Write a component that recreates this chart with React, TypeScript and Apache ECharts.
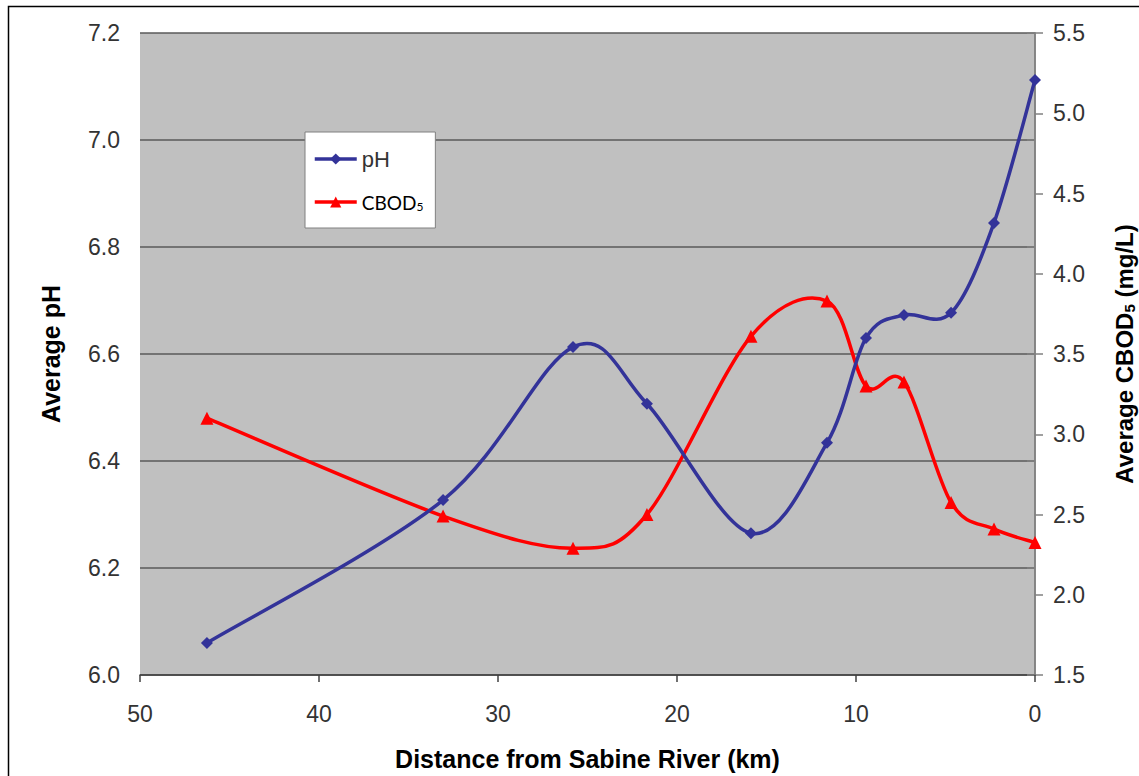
import React, { useEffect, useRef } from "react";
import * as echarts from "echarts";

const distanceKm = [46.26, 33.07, 25.81, 21.68, 15.87, 11.62, 9.44, 7.32, 4.69, 2.29, 0];
const phValues = [6.06, 6.327, 6.613, 6.507, 6.265, 6.434, 6.63, 6.673, 6.677, 6.845, 7.112];
const cbodValues = [3.1, 2.49, 2.29, 2.5, 3.61, 3.83, 3.3, 3.325, 2.575, 2.41, 2.325];
const xTicks = [50, 40, 30, 20, 10, 0];
const phTicks = ["6.0", "6.2", "6.4", "6.6", "6.8", "7.0", "7.2"];
const cbodTicks = ["1.5", "2.0", "2.5", "3.0", "3.5", "4.0", "4.5", "5.0", "5.5"];

const PH_COLOR = "#333399";
const CBOD_COLOR = "#FF0000";

// Smooth curve (uniform Catmull-Rom → cubic Bezier) through points mapped by the axes
function smoothPath(pts: number[][]): string {
  let d = `M${pts[0][0]},${pts[0][1]}`;
  for (let i = 0; i < pts.length - 1; i++) {
    const p0 = pts[Math.max(i - 1, 0)];
    const p1 = pts[i];
    const p2 = pts[i + 1];
    const p3 = pts[Math.min(i + 2, pts.length - 1)];
    const c1x = p1[0] + (p2[0] - p0[0]) / 6;
    const c1y = p1[1] + (p2[1] - p0[1]) / 6;
    const c2x = p2[0] - (p3[0] - p1[0]) / 6;
    const c2y = p2[1] - (p3[1] - p1[1]) / 6;
    d += ` C${c1x},${c1y} ${c2x},${c2y} ${p2[0]},${p2[1]}`;
  }
  return d;
}

function curveSeries(name: string, yAxisIndex: number, data: number[][], color: string) {
  return {
    name: name + "-curve",
    type: "custom",
    yAxisIndex,
    data,
    silent: true,
    z: yAxisIndex === 0 ? 3 : 2,
    renderItem: (params: any, api: any) => {
      if (params.dataIndex !== 0) return null;
      const pts = data.map((p) => api.coord(p));
      return {
        type: "path",
        shape: { pathData: smoothPath(pts) },
        style: { fill: "none", stroke: color, lineWidth: 3.5 },
      };
    },
  };
}

export default function App() {
  const ref = useRef<HTMLDivElement>(null);
  useEffect(() => {
    if (!ref.current) return;
    const chart = echarts.init(ref.current, null, { renderer: "svg" });
    const phData = distanceKm.map((d, i) => [d, phValues[i]]);
    const cbodData = distanceKm.map((d, i) => [d, cbodValues[i]]);
    const labelFont = "Liberation Sans, Arial, sans-serif";
    chart.setOption({
      animation: false,
      backgroundColor: "#ffffff",
      graphic: [
        {
          type: "rect",
          shape: { x: 8.5, y: 6.5, width: 1140, height: 790 },
          style: { fill: "none", stroke: "#000000", lineWidth: 1.5 },
          silent: true,
        },
      ],
      grid: {
        left: 140,
        right: 104,
        top: 33,
        bottom: 101,
        show: true,
        backgroundColor: "#C0C0C0",
        borderWidth: 0,
        outerBoundsMode: "none",
        containLabel: false,
      },
      legend: {
        orient: "vertical",
        left: 305,
        top: 132,
        padding: [16, 12, 16, 8],
        backgroundColor: "#ffffff",
        borderColor: "#808080",
        borderWidth: 1,
        itemWidth: 42,
        itemHeight: 14,
        itemGap: 22,
        data: [
          { name: "pH", lineStyle: { width: 3.5, color: PH_COLOR, opacity: 1 } },
          { name: "CBOD5", lineStyle: { width: 3.5, color: CBOD_COLOR, opacity: 1 } },
        ],
        formatter: (name: string) => (name === "CBOD5" ? "{c|CBOD}{s|5}" : "{p|pH}"),
        textStyle: {
          lineHeight: 20,
          rich: {
            p: { fontFamily: labelFont, fontSize: 22, color: "#333333", lineHeight: 20 },
            c: { fontFamily: "Lato, Carlito, sans-serif", fontSize: 19, color: "#000000", lineHeight: 20 },
            s: { fontFamily: "Lato, Carlito, sans-serif", fontSize: 12, color: "#000000", lineHeight: 20, verticalAlign: "bottom", padding: [8, 0, 0, 0] },
          },
        },
      },
      xAxis: {
        type: "value",
        inverse: true,
        min: 0,
        max: 50,
        interval: 10,
        name: "Distance from Sabine River (km)",
        nameLocation: "middle",
        nameGap: 71,
        nameTextStyle: { fontFamily: labelFont, fontWeight: "bold", fontSize: 25, color: "#000000" },
        axisLine: { show: true, lineStyle: { color: "#404040", width: 1.5 } },
        axisTick: { show: true, length: 7, inside: false, lineStyle: { color: "#404040", width: 1.5 } },
        axisLabel: {
          margin: 27,
          fontFamily: labelFont,
          fontSize: 23,
          color: "#333333",
          formatter: (v: number) => (xTicks.includes(v) ? String(v) : ""),
        },
        splitLine: { show: false },
      },
      yAxis: [
        {
          type: "value",
          position: "left",
          min: 6.0,
          max: 7.2,
          interval: 0.2,
          name: "Average pH",
          nameLocation: "middle",
          nameRotate: 90,
          nameGap: 77,
          nameTextStyle: { fontFamily: labelFont, fontWeight: "bold", fontSize: 25, color: "#000000" },
          axisLine: { show: true, lineStyle: { color: "#808080", width: 1.5 } },
          axisTick: { show: true, length: 8, lineStyle: { color: "#808080", width: 1.5 } },
          axisLabel: {
            margin: 20,
            fontFamily: labelFont,
            fontSize: 23,
            color: "#333333",
            formatter: (v: number) => {
              const s = v.toFixed(1);
              return phTicks.includes(s) ? s : "";
            },
          },
          splitLine: { show: true, lineStyle: { color: "#5a5a5a", width: 1.5 } },
        },
        {
          type: "value",
          position: "right",
          min: 1.5,
          max: 5.5,
          interval: 0.5,
          name: "{a|Average CBOD}{s|5}{a| (mg/L)}",
          nameLocation: "middle",
          nameRotate: 90,
          nameGap: 76,
          nameTextStyle: {
            rich: {
              a: { fontFamily: labelFont, fontWeight: "bold", fontSize: 24, color: "#000000", lineHeight: 26 },
              s: { fontFamily: labelFont, fontWeight: "bold", fontSize: 15, color: "#000000", lineHeight: 26, verticalAlign: "bottom", padding: [10, 0, 0, 0] },
            },
          },
          axisLine: { show: true, lineStyle: { color: "#808080", width: 1.5 } },
          axisTick: { show: true, length: 8, lineStyle: { color: "#808080", width: 1.5 } },
          axisLabel: {
            margin: 18,
            fontFamily: labelFont,
            fontSize: 23,
            color: "#333333",
            formatter: (v: number) => {
              const s = v.toFixed(1);
              return cbodTicks.includes(s) ? s : "";
            },
          },
          splitLine: { show: false },
        },
      ],
      series: [
        curveSeries("pH", 0, phData, PH_COLOR),
        curveSeries("CBOD5", 1, cbodData, CBOD_COLOR),
        {
          name: "pH",
          type: "line",
          yAxisIndex: 0,
          data: phData,
          symbol: "diamond",
          symbolSize: 12,
          lineStyle: { color: PH_COLOR, width: 3.5, opacity: 0 },
          itemStyle: { color: PH_COLOR },
          z: 4,
        },
        {
          name: "CBOD5",
          type: "line",
          yAxisIndex: 1,
          data: cbodData,
          symbol: "triangle",
          symbolSize: 13,
          lineStyle: { color: CBOD_COLOR, width: 3.5, opacity: 0 },
          itemStyle: { color: CBOD_COLOR },
          z: 3,
        },
      ],
    });
    return () => chart.dispose();
  }, []);
  return (
    <div
      ref={ref}
      style={{ position: "fixed", left: 0, top: 0, width: 1139, height: 776 }}
    />
  );
}
